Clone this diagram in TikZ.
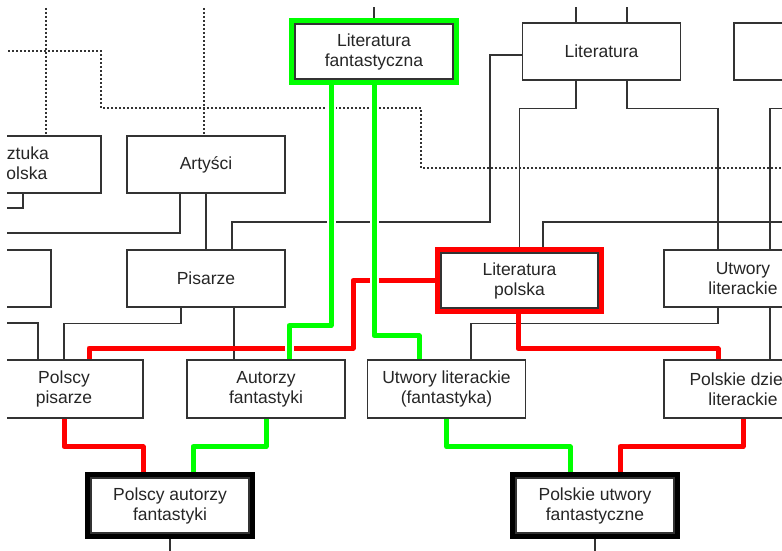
\documentclass[tikz,border=0pt]{standalone}
\usepackage{fontspec}
\setmainfont{Liberation Sans}
\usepackage{tikz}
\usetikzlibrary{backgrounds}
\definecolor{szary}{rgb}{0.2,0.2,0.2}
\definecolor{zielony}{rgb}{0,1,0}
\definecolor{czerwony}{rgb}{1,0,0}

\begin{document}
\begin{tikzpicture}[x=1pt,y=-1pt,
    box/.style={draw=szary,line width=1.3pt,fill=white,text=black!85,
      minimum width=158pt,minimum height=57pt,inner sep=0pt,align=center,
      font=\fontsize{17.5}{20}\selectfont},
    ramka/.style={box,minimum height=55pt,preaction={draw=#1,line width=12pt}},
    linia/.style={draw=szary,line width=1.3pt},
    kropki/.style={draw=szary,line width=1.3pt,dash pattern=on 2pt off 2pt},
    czerwona/.style={draw=czerwony,line width=5pt,line join=round},
    zielona/.style={draw=zielony,line width=5pt,line join=round,
      preaction={draw=white,line width=9pt}}]
  \useasboundingbox (0,0) rectangle (782,551);
  \clip (7,8) rectangle (782,551);

  \node[box] (lewy) at (-28,278.5) {};
  \node[box] (prawy) at (813,51.5) {};
  \node[box] (sztuka) at (22,164.5) {Sztuka\\polska};
  \node[box] (artysci) at (206,164.5) {Artyści};
  \node[ramka=zielony] (fant) at (374,51.5) {Literatura\\fantastyczna};
  \node[box] (lit) at (601.5,51.5) {Literatura};
  \node[box] (pisarze) at (206,278.5) {Pisarze};
  \node[ramka=czerwony,minimum width=157pt] (litpol) at (519.5,280.5) {Literatura\\polska};
  \node[box] (utwory) at (743,278.5) {Utwory\\literackie};
  \node[box,minimum height=58pt] (polpis) at (64,389) {Polscy\\pisarze};
  \node[box,minimum height=58pt] (autorzy) at (266,389) {Autorzy\\fantastyki};
  \node[box,minimum height=58pt] (utwfant) at (446.5,389) {Utwory literackie\\(fantastyka)};
  \node[box,minimum height=58pt] (poldziela) at (743,389) {Polskie dzieła\\literackie};
  \node[ramka=black] (pautorzy) at (170,505.5) {Polscy autorzy\\fantastyki};
  \node[ramka=black] (putwory) at (595,505.5) {Polskie utwory\\fantastyczne};

  \coordinate (g1) at (46,0);
  \coordinate (g2) at (204,0);
  \coordinate (g3) at (374,0);
  \coordinate (g4) at (576,0);
  \coordinate (g5) at (627,0);
  \coordinate (k1) at (0,51);
  \coordinate (k2) at (790,168);
  \coordinate (l1) at (0,208);
  \coordinate (l2) at (0,233);
  \coordinate (l3) at (0,323);
  \coordinate (p1) at (790,222);
  \coordinate (d1) at (170,560);
  \coordinate (d2) at (595,560);

  \begin{pgfonlayer}{background}
    \clip (7,8) rectangle (782,551);
    \draw[kropki] (g1) -- (g1 |- sztuka.north);
    \draw[kropki] (g2) -- (g2 |- artysci.north);
    \draw[kropki] (k1) -| (101,108) -| (421,168) -- (k2);

    \draw[linia] (g3) -- (fant.north);
    \draw[linia] (g4) -- (g4 |- lit.north);
    \draw[linia] (g5) -- (g5 |- lit.north);
    \draw[linia] ([yshift=-3.5pt]lit.west) -| (490,222) -| ([xshift=26pt]pisarze.north);
    \draw[linia] ([xshift=-25.5pt]lit.south) -- ++(0,28) -| (litpol.north);
    \draw[linia] ([xshift=25.5pt]lit.south) -- ++(0,28) -| ([xshift=-25pt]utwory.north);
    \draw[linia] (prawy.south) -- ++(0,28) -| ([xshift=27pt]utwory.north);
    \draw[linia] (p1) -| ([xshift=23.5pt]litpol.north);
    \draw[linia] ([xshift=-25pt]utwory.south) -- ++(0,16) -| ([xshift=24.5pt]utwfant.north);
    \draw[linia] ([xshift=27pt]utwory.south) -- ([xshift=27pt]poldziela.north);
    \draw[linia] ([xshift=1pt]sztuka.south) |- (l1);
    \draw[linia] ([xshift=-26pt]artysci.south) |- (l2);
    \draw[linia] (artysci.south) -- (pisarze.north);
    \draw[linia] ([xshift=-25pt]pisarze.south) -- ++(0,16) -| (polpis.north);
    \draw[linia] ([xshift=28pt]pisarze.south) -- ([xshift=-32pt]autorzy.north);
    \draw[linia] (l3) -| ([xshift=-26pt]polpis.north);
    \draw[linia] (pautorzy.south) -- (d1);
    \draw[linia] (putwory.south) -- (d2);

    \draw[czerwona] (litpol.west) -| (353,348) -| ([xshift=25pt]polpis.north);
    \draw[czerwona] ([xshift=-1.5pt]litpol.south) -- ++(0,40) -| ([xshift=-25pt]poldziela.north);
    \draw[czerwona] (polpis.south) -- ++(0,28) -| ([xshift=-27pt]pautorzy.north);
    \draw[czerwona] (poldziela.south) -- ++(0,28) -| ([xshift=25pt]putwory.north);

    \draw[zielona] ([xshift=-43pt]fant.south) -- ++(0,246) -| ([xshift=23pt]autorzy.north);
    \draw[zielona] (fant.south) -- ++(0,256) -| ([xshift=-27.5pt]utwfant.north);
    \draw[zielona] (autorzy.south) -- ++(0,28) -| ([xshift=23pt]pautorzy.north);
    \draw[zielona] (utwfant.south) -- ++(0,28) -| ([xshift=-25pt]putwory.north);
  \end{pgfonlayer}
\end{tikzpicture}
\end{document}
